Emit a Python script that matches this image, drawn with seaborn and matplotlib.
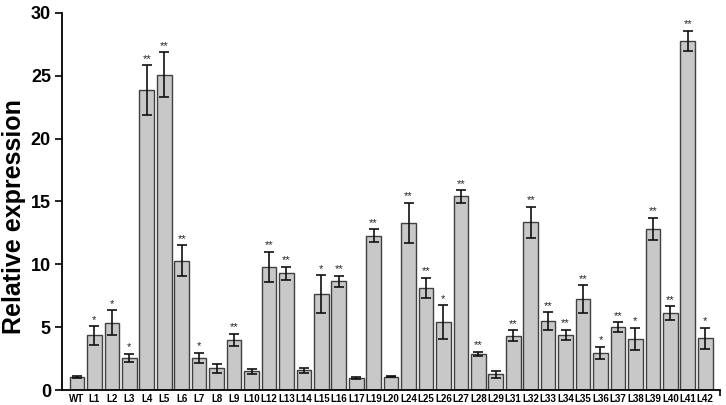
import numpy as np
import pandas as pd
import matplotlib
matplotlib.use('Agg')
import matplotlib.pyplot as plt
import seaborn as sns

# ============================================================
# DATA
# ============================================================
lines = ['WT', 'L1', 'L2', 'L3', 'L4', 'L5', 'L6', 'L7', 'L8', 'L9', 'L10',
         'L12', 'L13', 'L14', 'L15', 'L16', 'L17', 'L19', 'L20', 'L24', 'L25',
         'L26', 'L27', 'L28', 'L29', 'L31', 'L32', 'L33', 'L34', 'L35', 'L36',
         'L37', 'L38', 'L39', 'L40', 'L41', 'L42']
expression = [1.05, 4.35, 5.35, 2.57, 23.87, 25.09, 10.29, 2.57, 1.72, 4.0, 1.51,
              9.81, 9.28, 1.59, 7.64, 8.67, 0.95, 12.28, 1.07, 13.3, 8.15,
              5.38, 15.4, 2.89, 1.25, 4.32, 13.34, 5.47, 4.38, 7.24, 2.97,
              4.98, 4.06, 12.8, 6.15, 27.79, 4.1]
sd = [0.1, 0.73, 1.0, 0.33, 2.0, 1.8, 1.22, 0.4, 0.33, 0.48, 0.2,
      1.2, 0.53, 0.2, 1.48, 0.44, 0.1, 0.53, 0.05, 1.6, 0.8,
      1.35, 0.5, 0.15, 0.3, 0.45, 1.25, 0.7, 0.43, 1.1, 0.48,
      0.4, 0.9, 0.9, 0.54, 0.8, 0.85]
signif = ['', '*', '*', '*', '**', '**', '**', '*', '', '**', '',
          '**', '**', '', '*', '**', '', '**', '', '**', '**',
          '*', '**', '**', '', '**', '**', '**', '**', '**', '*',
          '**', '*', '**', '**', '**', '*']

df = pd.DataFrame({'line': lines, 'expr': expression})

# ============================================================
# PLOT
# ============================================================
sns.set_style('white')
plt.rcParams['font.family'] = ['Liberation Sans', 'DejaVu Sans']
plt.rcParams['font.weight'] = 'bold'
plt.rcParams['text.color'] = 'black'
plt.rcParams['axes.labelcolor'] = 'black'
plt.rcParams['xtick.color'] = 'black'
plt.rcParams['ytick.color'] = 'black'

fig = plt.figure(figsize=(7.26, 4.05), dpi=100)
ax = fig.add_axes([0.0854, 0.037, 0.9066, 0.931])

sns.barplot(data=df, x='line', y='expr', color='#c8c8c8', saturation=1,
            edgecolor='#404040', linewidth=1.0, width=0.84, ax=ax)

x = np.arange(len(lines))
ax.errorbar(x, expression, yerr=sd, fmt='none', ecolor='#111111',
            elinewidth=1.2, capsize=3.5, capthick=1.2)

# significance stars above the error bars
for xi, v, e, s in zip(x, expression, sd, signif):
    if s:
        ax.text(xi, v + e + 0.1, s, ha='center', va='bottom',
                fontsize=8, fontweight='normal', color='#222222')

xmax = len(lines) - 0.14
ax.set_xlim(-0.86, xmax)
ax.set_ylim(0, 30)
ax.set_yticks([0, 5, 10, 15, 20, 25, 30])
ax.set_xticks([xmax], minor=True)
ax.set_xlabel('')
ax.set_ylabel('Relative expression', fontsize=18, fontweight='bold')
ax.yaxis.set_label_coords(-0.055, 0.46)

for side in ['top', 'right']:
    ax.spines[side].set_visible(False)
for side in ['left', 'bottom']:
    ax.spines[side].set_color('black')
    ax.spines[side].set_linewidth(1.3)

ax.tick_params(axis='y', direction='out', length=5, width=1.2, labelsize=13, pad=3, left=True)
ax.tick_params(axis='x', length=0, labelsize=7, pad=3)
ax.tick_params(axis='x', which='minor', bottom=True, direction='out', length=4, width=1.2)
for lab in ax.get_xticklabels() + ax.get_yticklabels():
    lab.set_fontweight('bold')

fig.savefig('out.png', dpi=100)
